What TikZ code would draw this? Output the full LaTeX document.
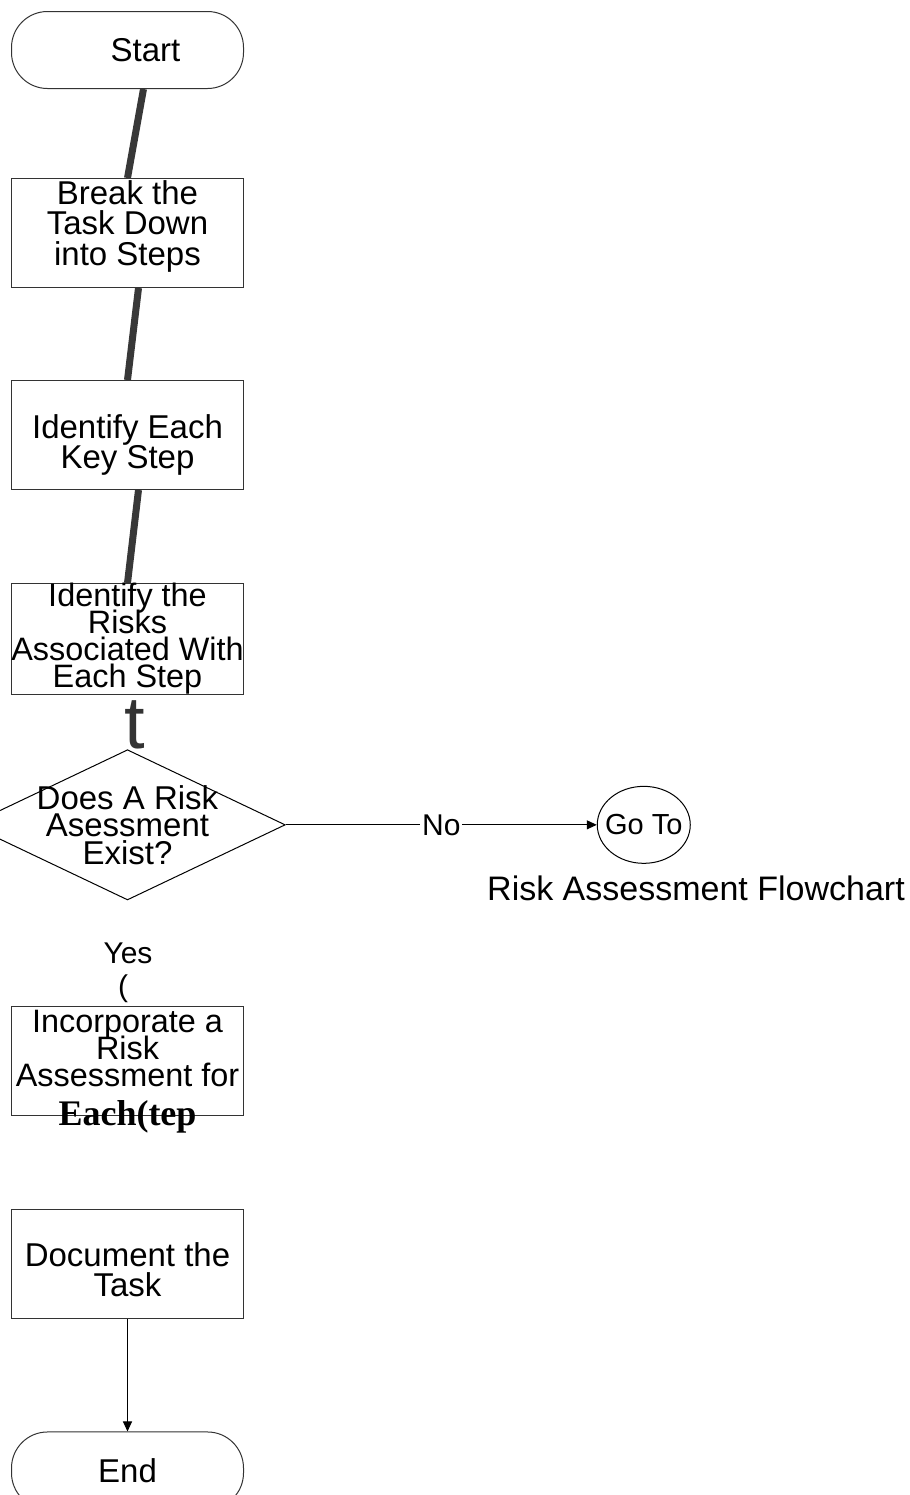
\documentclass[tikz,border=0pt]{standalone}
\usepackage{fontspec}
\setmainfont{Liberation Sans}
\newfontfamily\timesfont{Liberation Serif}
\usetikzlibrary{arrows.meta, positioning, shapes.geometric}
\lineskiplimit=-20pt

\begin{document}
\begin{tikzpicture}[
    x=0.5pt, y=-0.5pt,
    font=\fontsize{16.5}{15.25}\selectfont,
    term/.style={draw=black!80, line width=0.5pt, rounded corners=18pt,
                 minimum width=116pt, minimum height=38.5pt, inner sep=0pt},
    stepbox/.style={draw=black!80, line width=0.5pt, minimum width=116pt,
                 minimum height=54.5pt, inner sep=0pt, align=center},
    tight/.style={font=\fontsize{16.2}{13.5}\selectfont},
    decide/.style={diamond, draw=black, line width=0.5pt, shape aspect=2.1,
                 minimum width=156pt, minimum height=74pt,
                 inner xsep=-6pt, inner ysep=-1pt, align=center,
                 font=\fontsize{16.5}{13.75}\selectfont},
    jump/.style={ellipse, draw=black, line width=0.5pt, minimum width=46.5pt,
                 minimum height=38.5pt, inner xsep=-8pt, inner ysep=0pt,
                 font=\fontsize{14.5}{14.5}\selectfont},
    small/.style={font=\fontsize{15}{15}\selectfont},
    fat/.style={draw=black!78, line width=3.5pt},
    ar/.style={-{Triangle[length=5pt,width=4.5pt]}, draw=black, line width=0.5pt}
  ]
    \useasboundingbox (0,0) rectangle (910,1495);

    \node[term] (start) at (127.5,50) {\hspace{18pt}Start};
    \node[stepbox] (brk) [below=44.5pt of start]
      {Break the\\Task Down\\into Steps\rule[-10pt]{0pt}{10pt}};
    \node[stepbox] (ident) [below=46pt of brk] {\rule{0pt}{22pt}Identify Each\\Key Step};
    \node[stepbox, tight] (risks) [below=46.5pt of ident]
      {Identify the\\Risks\\Associated With\\Each Step};
    \node[decide] (dec) [below=27pt of risks,
      label={[inner sep=0pt, xshift=3.5pt, text=black!80,
              font=\fontsize{37}{37}\selectfont]north:t}]
      {Does A Risk\\Asessment\\Exist?};
    \node[stepbox, tight] (incorp) [below=53pt of dec,
      label={[anchor=center, inner sep=0pt,
              font=\timesfont\bfseries\fontsize{18}{18}\selectfont]south:Each(tep}]
      {Incorporate a\\Risk\\Assessment for\\~};
    \node[stepbox] (doc) [below=46.5pt of incorp] {\rule{0pt}{17pt}Document the\\Task};
    \node[term] (end) [below=56pt of doc] {End\hspace{10pt}};

    \node[jump] (goto) [right=155.5pt of dec] {Go To};
    \node (gotolbl) at (696,888) {\fontsize{17}{17}\selectfont Risk Assessment Flowchart};
    \node[small] (yes) at (128,953) {Yes};
    \node[small] (paren) at (123,989) {(};

    \draw[fat] ([xshift=8pt]start.south) -- (brk.north);
    \draw[fat] ([xshift=5.5pt]brk.south) -- (ident.north);
    \draw[fat] ([xshift=5.5pt]ident.south) -- (risks.north);
    \draw[ar] (dec.east) -- node[small, fill=white, inner sep=1pt] (no) {No} (goto.west);
    \draw[ar] (doc.south) -- (end.north);
\end{tikzpicture}
\end{document}
